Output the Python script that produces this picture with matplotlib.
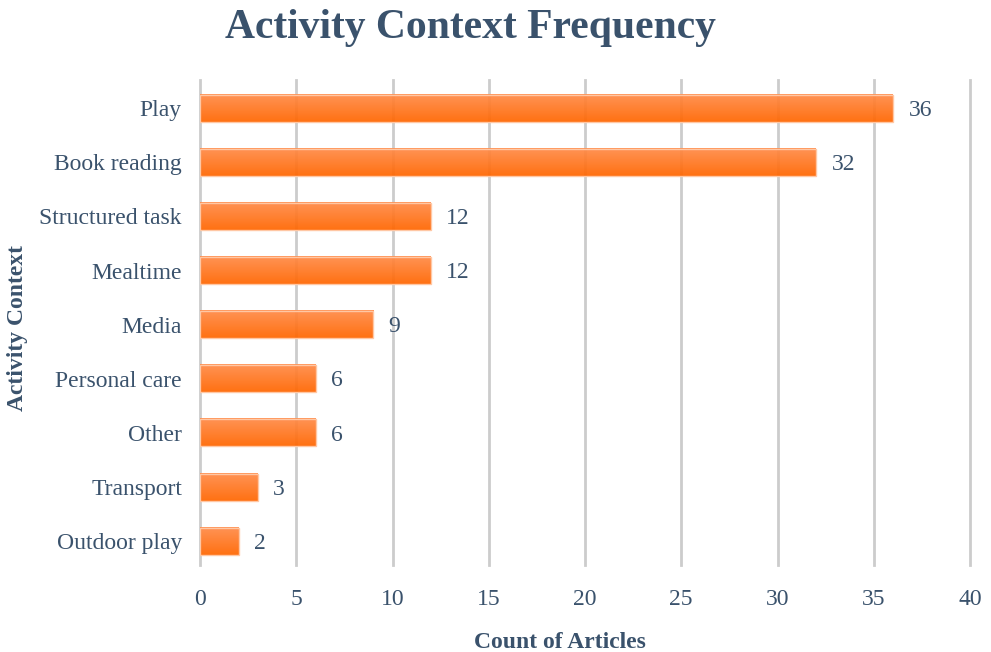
import matplotlib.pyplot as plt
import numpy as np
from matplotlib.colors import LinearSegmentedColormap

# data
categories = ["Play", "Book reading", "Structured task", "Mealtime", "Media",
              "Personal care", "Other", "Transport", "Outdoor play"]
counts = [36, 32, 12, 12, 9, 6, 6, 3, 2]

text_col = "#3a526c"
plt.rcParams['font.family'] = ['Liberation Serif', 'DejaVu Serif']

fig = plt.figure(figsize=(9.91, 6.52), dpi=100)
ax = fig.add_axes([200/991, 1 - 565/652, 770/991, 485/652])

# gradient for the bars (light top -> deep orange bottom)
cmap = LinearSegmentedColormap.from_list("orng", ["#ff6600", "#ff8b48"])
grad = np.linspace(0, 1, 64).reshape(-1, 1)

n = len(categories)
ypos = np.arange(n)[::-1]
h = 0.5
for y, v in zip(ypos, counts):
    ax.imshow(grad, cmap=cmap, origin='lower', aspect='auto', alpha=0.93,
              extent=[0, v, y - h/2, y + h/2], zorder=3)
    ax.barh(y, v, height=h, color='none', edgecolor='#ffc7a4', linewidth=1, zorder=4)
    ax.text(v + 0.8, y - 0.04, str(v), va='center', ha='left', fontsize=17, color=text_col)

ax.set_xlim(0, 40)
ax.set_ylim(-0.44, 8.52)
ax.set_xticks(range(0, 41, 5))
ax.set_yticks(ypos)
ax.set_yticklabels(categories)
ax.tick_params(axis='both', length=0, labelsize=17, labelcolor=text_col)
ax.tick_params(axis='x', pad=17)
ax.tick_params(axis='y', pad=13)
for xv in range(0, 41, 5):
    ax.axvline(xv, color='#cccccc', linewidth=2, zorder=1, clip_on=False)
for s in ax.spines.values():
    s.set_visible(False)

fig.text(470/991, 1 - 28/652, "Activity Context Frequency", ha='center', va='center',
         fontsize=30, fontweight='bold', color=text_col)
fig.text(560/991, 1 - 642/652, "Count of Articles", ha='center', va='center',
         fontsize=17, fontweight='bold', color=text_col)
fig.text(18/991, 1 - 328/652, "Activity Context", ha='center', va='center', rotation=90,
         fontsize=17, fontweight='bold', color=text_col)

fig.savefig("out.png", dpi=100)
